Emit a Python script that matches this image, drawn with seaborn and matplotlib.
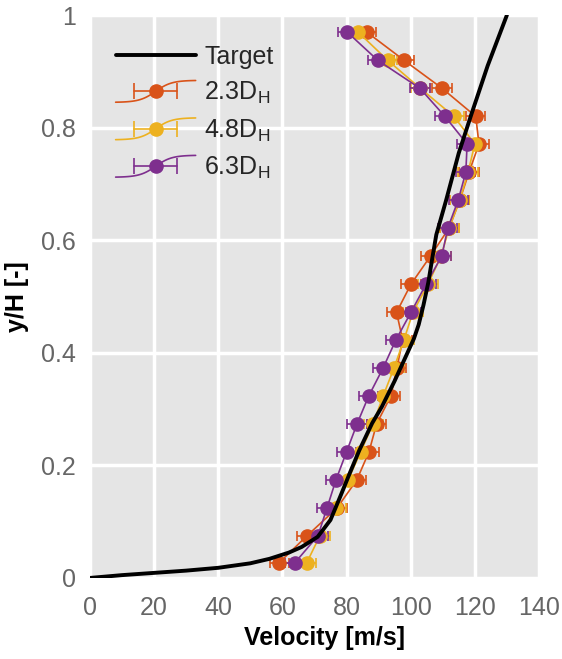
import matplotlib
matplotlib.use("Agg")
import matplotlib.pyplot as plt
import seaborn as sns
import pandas as pd
import numpy as np
from matplotlib.lines import Line2D
from matplotlib.legend_handler import HandlerBase

# --- DATA ---
y_levels = [0.027, 0.075, 0.124, 0.174, 0.224, 0.274, 0.323, 0.373, 0.423, 0.472,
            0.522, 0.572, 0.622, 0.671, 0.721, 0.771, 0.820, 0.870, 0.920, 0.970]

vel_23 = [59.0, 67.7, 77.0, 83.2, 87.0, 89.4, 93.8, 95.7, 97.5, 95.6,
          100.1, 106.2, 112.0, 115.3, 118.2, 121.3, 120.3, 109.8, 97.9, 86.3]
vel_48 = [67.6, 71.7, 76.7, 80.5, 84.4, 88.3, 91.4, 94.8, 97.9, 100.7,
          105.4, 109.5, 112.0, 115.3, 117.9, 120.0, 113.5, 103.0, 92.8, 83.6]
vel_63 = [63.9, 71.1, 73.9, 76.7, 80.0, 83.3, 86.9, 91.4, 95.4, 100.1,
          104.8, 109.7, 111.6, 114.8, 117.2, 117.6, 110.7, 102.9, 89.7, 80.2]
vel_err = 3.0

target_vel = [0, 10, 20, 30, 40, 50, 56, 62, 66, 71, 75, 78, 81, 84, 88, 91,
              95, 99, 101, 102.5, 104, 105.5, 106.8, 108, 111, 115, 119, 124, 130]
target_y = [0, 0.005, 0.009, 0.013, 0.018, 0.026, 0.034, 0.045, 0.055, 0.073,
            0.103, 0.144, 0.186, 0.227, 0.275, 0.304, 0.35, 0.40, 0.425, 0.45,
            0.485, 0.525, 0.57, 0.61, 0.67, 0.755, 0.825, 0.91, 1.0]

series = [("2.3D$_\\mathrm{H}$", vel_23, "#D95319"),
          ("4.8D$_\\mathrm{H}$", vel_48, "#EDB120"),
          ("6.3D$_\\mathrm{H}$", vel_63, "#7E2F8E")]


class SCurveHandler(HandlerBase):
    # Excel-like legend glyph: S-shaped line with a marker and an error bar
    def create_artists(self, legend, orig_handle, xdescent, ydescent, width,
                       height, fontsize, trans):
        col = orig_handle.get_color()
        x0, y0 = -xdescent, -ydescent
        cy = y0 + height / 2
        t = np.linspace(0, 1, 40)
        s = np.tanh((t - 0.5) * 5) / np.tanh(2.5)
        curve = Line2D(x0 + width * t, cy + 0.62 * height * s, color=col,
                       lw=1.2, transform=trans)
        bar = Line2D([x0 + 0.23 * width, x0 + 0.77 * width], [cy, cy],
                     color=col, lw=1.2, transform=trans)
        caps = Line2D([x0 + 0.23 * width, x0 + 0.77 * width], [cy, cy],
                      color=col, ls="none", marker="|", ms=11, mew=1.2,
                      transform=trans)
        dot = Line2D([x0 + 0.5 * width], [cy], color=col, ls="none",
                     marker="o", ms=9.5, transform=trans)
        return [curve, bar, caps, dot]


# --- STYLE ---
sns.set_theme(style="darkgrid", rc={
    "axes.facecolor": "#e5e5e5",
    "grid.color": "white",
    "grid.linewidth": 2.5,
    "axes.edgecolor": "#e5e5e5",
})
plt.rcParams["font.family"] = ["Liberation Sans", "DejaVu Sans"]
plt.rcParams["mathtext.fontset"] = "custom"
plt.rcParams["mathtext.rm"] = "Liberation Sans"

fig = plt.figure(figsize=(5.62, 6.59), dpi=100)
ax = fig.add_axes([0.160, 0.123, 0.799, 0.854])

# --- PLOT ---
target = pd.DataFrame({"vel": target_vel, "y": target_y})
sns.lineplot(data=target, x="vel", y="y", sort=False, color="black", lw=2.8,
             ax=ax, zorder=5, legend=False)

proxies = []
for label, vel, col in series:
    ax.errorbar(vel, y_levels, xerr=vel_err, color=col, marker="o", ms=9.5,
                lw=1.2, elinewidth=1.2, capsize=3.5, capthick=1.2, zorder=3)
    proxies.append(Line2D([], [], color=col))

ax.set_xlim(0, 140)
ax.set_ylim(0, 1)
ax.set_xticks(range(0, 141, 20))
ax.set_yticks([0, 0.2, 0.4, 0.6, 0.8, 1.0])
ax.set_yticklabels(["0", "0.2", "0.4", "0.6", "0.8", "1"])
ax.tick_params(labelsize=18, colors="#666666", length=0)
ax.tick_params(axis="x", pad=13)
ax.tick_params(axis="y", pad=10)
ax.set_xlabel("Velocity [m/s]", fontsize=18, fontweight="bold", color="black")
ax.set_ylabel("y/H [-]", fontsize=18, fontweight="bold", color="black", labelpad=9)
ax.xaxis.set_label_coords(0.522, -0.086)
for s in ax.spines.values():
    s.set_visible(False)

handles = [Line2D([], [], color="black", lw=2.8)] + proxies
labels = ["Target"] + [lab for lab, _, _ in series]
ax.legend(handles, labels, loc="upper left", bbox_to_anchor=(0.035, 0.965),
          frameon=False, fontsize=18, handlelength=3.2, labelspacing=0.45,
          handletextpad=0.35, borderaxespad=0,
          handler_map={p: SCurveHandler() for p in proxies})

fig.savefig("out.png", dpi=100)
